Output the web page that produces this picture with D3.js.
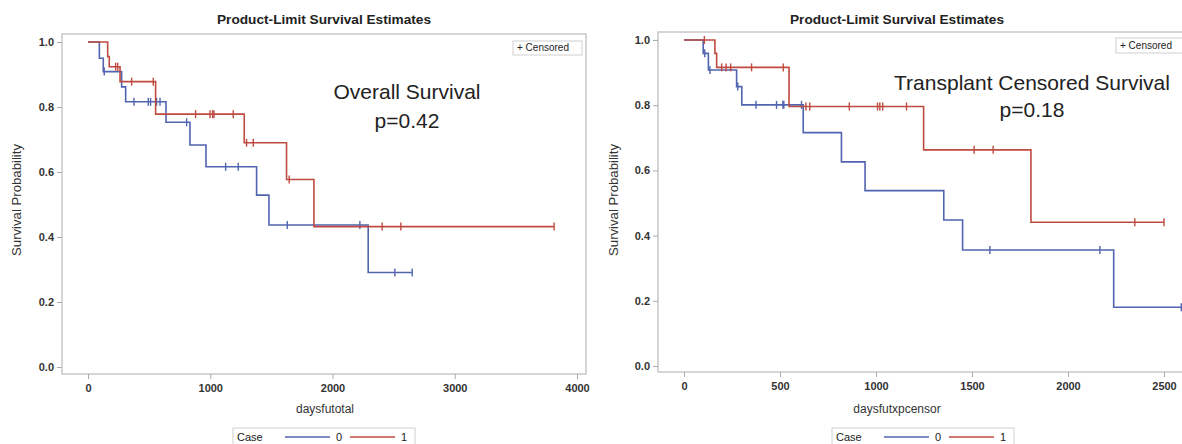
<!DOCTYPE html>
<html>
<head>
<meta charset="utf-8">
<script src="https://cdn.jsdelivr.net/npm/d3@7"></script>
<style>
  body { margin: 0; background: #fff; }
  text { font-family: "Liberation Sans", Arial, sans-serif; }
</style>
</head>
<body>
<svg id="chart" width="1182" height="444"></svg>
<script>
// ---- data ----
const yTicks = [0, 0.2, 0.4, 0.6, 0.8, 1.0];
const overallTicks = [0, 1000, 2000, 3000, 4000];
const transplantTicks = [0, 500, 1000, 1500, 2000, 2500];
const caseLabels = ["0", "1"];

// Overall survival: steps are [day, survival after the drop]
const overall0Steps = [[93, 0.95], [125, 0.909], [275, 0.862], [308, 0.816], [638, 0.753],
  [834, 0.683], [965, 0.616], [1379, 0.529], [1480, 0.437], [2292, 0.291]];
const overall0End = 2652;
const overall0Censor = [133, 376, 493, 512, 561, 589, 807, 1126, 1229, 1630, 2224, 2510, 2652];

const overall1Steps = [[161, 0.955], [174, 0.924], [262, 0.878], [553, 0.778], [1278, 0.69],
  [1624, 0.577], [1848, 0.432]];
const overall1End = 3813;
const overall1Censor = [226, 243, 357, 534, 880, 998, 1019, 1030, 1188, 1297, 1352, 1646, 2406, 2559, 3813];

// Transplant censored survival
const transplant0Steps = [[100, 0.959], [127, 0.908], [274, 0.857], [301, 0.801], [621, 0.716],
  [820, 0.626], [943, 0.538], [1353, 0.448], [1451, 0.356], [2238, 0.18]];
const transplant0End = 2590;
const transplant0Censor = [108, 135, 280, 375, 482, 515, 520, 612, 1593, 2166, 2590];

const transplant1Steps = [[161, 0.959], [170, 0.916], [547, 0.796], [1248, 0.663], [1807, 0.441]];
const transplant1End = 2500;
const transplant1Censor = [106, 196, 219, 243, 352, 517, 635, 655, 861, 1008, 1020, 1035, 1159, 1511, 1610, 2348, 2500];

const colors = ["#5164b0", "#bf4b40"];

const svg = d3.select("#chart");

const panels = [
  {
    x: d3.scaleLinear().domain([0, 4000]).range([88, 577]),
    y: d3.scaleLinear().domain([0, 1]).range([367, 42]),
    frame: [62, 34, 586, 374],
    xTicks: overallTicks,
    curves: [
      { steps: overall0Steps, end: overall0End, censor: overall0Censor },
      { steps: overall1Steps, end: overall1End, censor: overall1Censor },
    ],
    titleX: 324,
    xLabel: "daysfutotal", xLabelX: 325,
    yLabelX: 21,
    note: ["Overall Survival", "p=0.42"], noteX: 407, noteY: [99, 128],
    censorBox: [513, 41, 69, 14],
    legendX: 233,
  },
  {
    x: d3.scaleLinear().domain([0, 2500]).range([684, 1164]),
    y: d3.scaleLinear().domain([0, 1]).range([366, 40]),
    frame: [658, 32, 1210, 372],
    xTicks: transplantTicks,
    curves: [
      { steps: transplant0Steps, end: transplant0End, censor: transplant0Censor },
      { steps: transplant1Steps, end: transplant1End, censor: transplant1Censor },
    ],
    titleX: 897,
    xLabel: "daysfutxpcensor", xLabelX: 897,
    yLabelX: 618,
    note: ["Transplant Censored Survival", "p=0.18"], noteX: 1032, noteY: [90, 117],
    censorBox: [1116, 38, 72, 15],
    legendX: 832,
  },
];

const levelAt = (steps, t) => {
  let s = 1;
  steps.forEach(([st, sv]) => { if (st <= t) s = sv; });
  return s;
};

panels.forEach((p) => {
  const g = svg.append("g");
  const [fx0, fy0, fx1, fy1] = p.frame;

  g.append("text")
    .attr("x", p.titleX).attr("y", 24)
    .attr("text-anchor", "middle")
    .attr("font-size", 13).attr("font-weight", "bold")
    .attr("textLength", 214).attr("lengthAdjust", "spacingAndGlyphs")
    .attr("fill", "#222")
    .text("Product-Limit Survival Estimates");

  g.append("rect")
    .attr("x", fx0).attr("y", fy0)
    .attr("width", fx1 - fx0).attr("height", fy1 - fy0)
    .attr("fill", "none").attr("stroke", "#c8c8c8").attr("stroke-width", 1.5);

  const yAxis = g.append("g")
    .attr("transform", `translate(${fx0},0)`)
    .call(d3.axisLeft(p.y).tickValues(yTicks).tickSize(5).tickPadding(3).tickFormat(d3.format(".1f")));
  const xAxis = g.append("g")
    .attr("transform", `translate(0,${fy1})`)
    .call(d3.axisBottom(p.x).tickValues(p.xTicks).tickSize(5).tickPadding(5).tickFormat(d3.format("d")));
  [yAxis, xAxis].forEach((a) => {
    a.select(".domain").remove();
    a.selectAll(".tick line").attr("stroke", "#aaa");
    a.selectAll(".tick text")
      .attr("font-family", "'Liberation Sans', Arial, sans-serif")
      .attr("font-size", 11).attr("font-weight", "bold").attr("fill", "#333");
  });

  g.append("text")
    .attr("transform", `translate(${p.yLabelX},200) rotate(-90)`)
    .attr("text-anchor", "middle")
    .attr("font-size", 12).attr("fill", "#333")
    .attr("textLength", 112).attr("lengthAdjust", "spacingAndGlyphs")
    .text("Survival Probability");

  g.append("text")
    .attr("x", p.xLabelX).attr("y", 413)
    .attr("text-anchor", "middle")
    .attr("font-size", 12).attr("fill", "#333")
    .text(p.xLabel);

  const line = d3.line()
    .x((d) => p.x(d[0]))
    .y((d) => p.y(d[1]))
    .curve(d3.curveStepAfter);

  p.curves.forEach((c, i) => {
    const pts = [[0, 1], ...c.steps, [c.end, c.steps[c.steps.length - 1][1]]];
    g.append("path")
      .attr("d", line(pts))
      .attr("fill", "none")
      .attr("stroke", colors[i])
      .attr("stroke-width", 1.6);

    g.selectAll(null)
      .data(c.censor)
      .enter()
      .append("line")
      .attr("x1", (d) => p.x(d)).attr("x2", (d) => p.x(d))
      .attr("y1", (d) => p.y(levelAt(c.steps, d)) - 4)
      .attr("y2", (d) => p.y(levelAt(c.steps, d)) + 4)
      .attr("stroke", colors[i])
      .attr("stroke-width", 1.4);
  });

  // censored legend box
  const [bx, by, bw, bh] = p.censorBox;
  g.append("rect")
    .attr("x", bx).attr("y", by).attr("width", bw).attr("height", bh)
    .attr("fill", "#fff").attr("stroke", "#d0d0d0");
  g.append("text")
    .attr("x", bx + 4).attr("y", by + bh - 4)
    .attr("font-size", 10).attr("fill", "#222")
    .text("+ Censored");

  // annotation
  g.selectAll(null)
    .data(p.note)
    .enter()
    .append("text")
    .attr("x", p.noteX)
    .attr("y", (_, i) => p.noteY[i])
    .attr("text-anchor", "middle")
    .attr("font-family", "Lato, 'Open Sans', sans-serif")
    .attr("font-size", 21)
    .attr("fill", "#222")
    .text((d) => d);

  // case legend
  const lg = g.append("g").attr("transform", `translate(${p.legendX},428)`);
  lg.append("rect")
    .attr("width", 182).attr("height", 18)
    .attr("fill", "#fff").attr("stroke", "#d0d0d0");
  lg.append("text").attr("x", 4).attr("y", 13)
    .attr("font-size", 11).attr("fill", "#222").text("Case");
  caseLabels.forEach((lab, i) => {
    const lx = 52 + i * 65;
    lg.append("line")
      .attr("x1", lx).attr("x2", lx + 45)
      .attr("y1", 9).attr("y2", 9)
      .attr("stroke", colors[i]).attr("stroke-width", 1.6);
    lg.append("text").attr("x", lx + 51).attr("y", 13)
      .attr("font-size", 11).attr("fill", "#222").text(lab);
  });
});
</script>
</body>
</html>
